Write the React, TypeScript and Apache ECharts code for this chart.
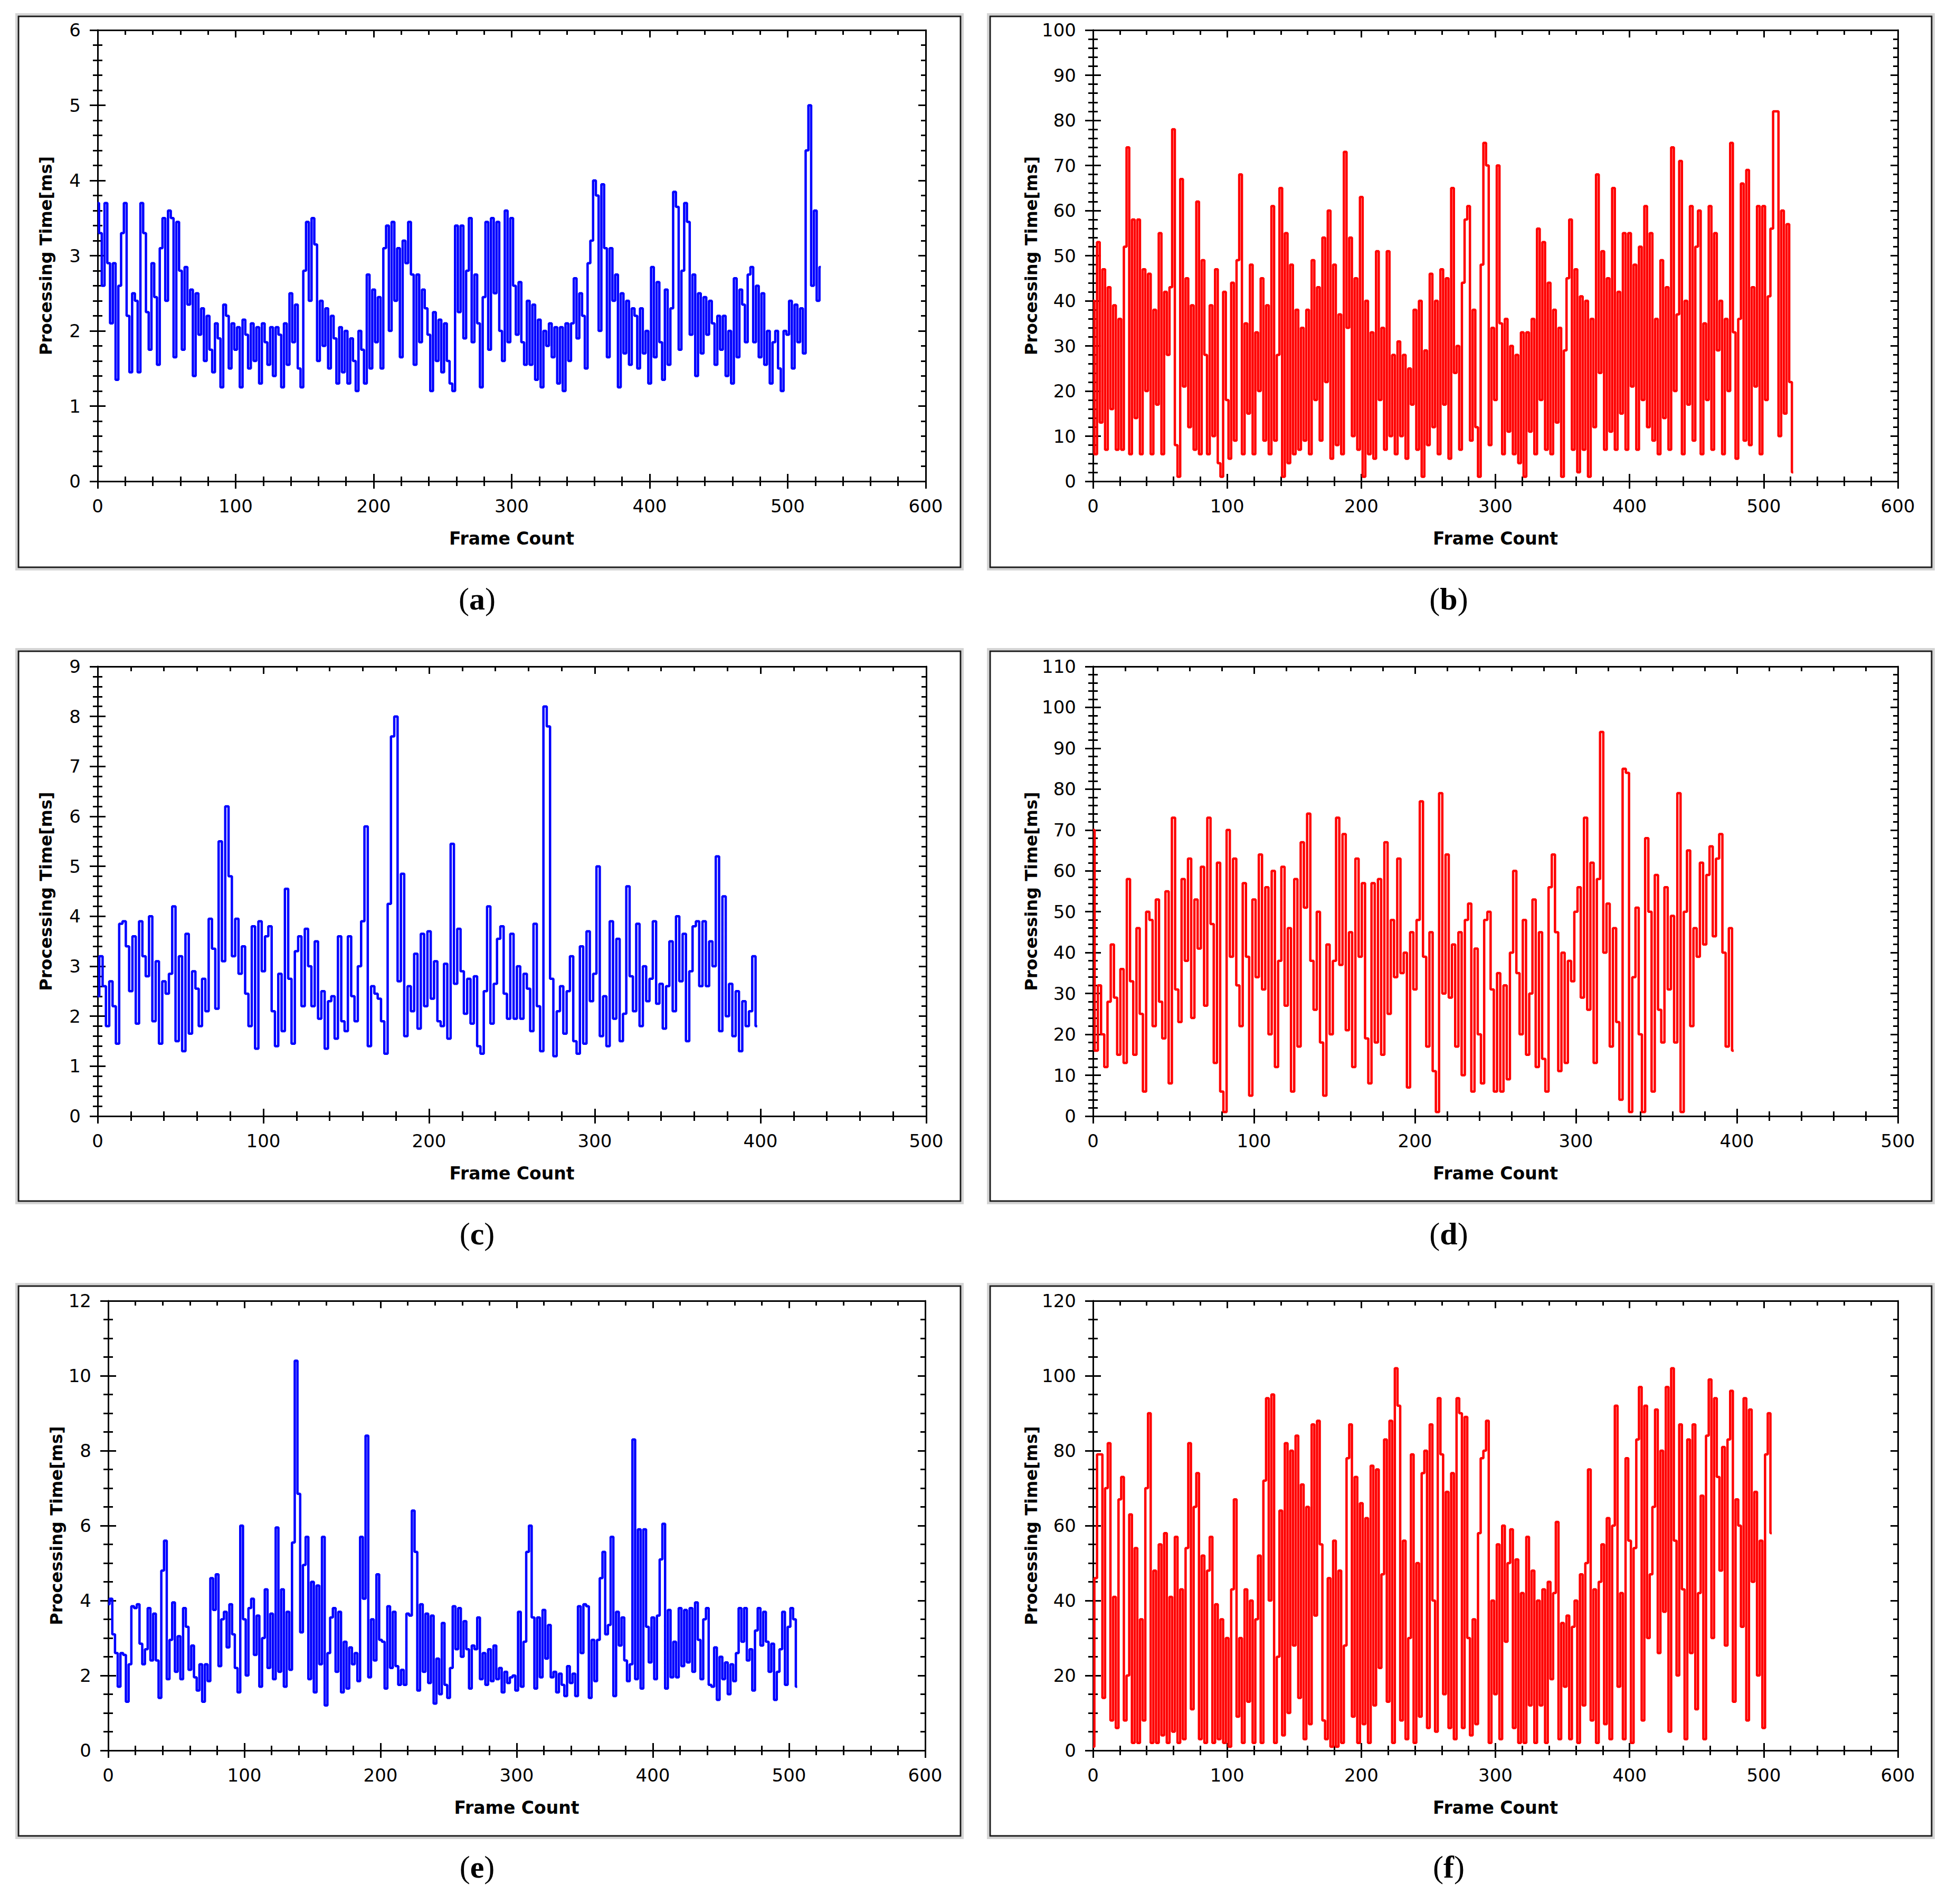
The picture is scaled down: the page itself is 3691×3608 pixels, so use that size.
import React, { useEffect, useRef } from "react";
import * as echarts from "echarts";

const W = 3691;
const H = 3608;
const FRAME_STEP = 2;

// (a) blue, frames 0..524 every 2 frames
const aTime = [
  3.7, 3.3, 2.6, 3.7, 2.9, 2.1, 2.9, 1.35, 2.6, 3.3,
  3.7, 2.2, 1.45, 2.5, 2.4, 1.45, 3.7, 3.3, 2.25, 1.75,
  2.9, 2.45, 1.55, 3.1, 3.5, 2.4, 3.6, 3.5, 1.65, 3.45,
  2.8, 1.75, 2.85, 2.35, 2.55, 1.4, 2.5, 1.95, 2.3, 1.6,
  2.2, 1.75, 1.45, 2.1, 1.9, 1.25, 2.35, 2.2, 1.5, 2.1,
  1.75, 2.05, 1.25, 2.15, 1.95, 1.5, 2.1, 1.6, 2.05, 1.3,
  2.1, 1.85, 1.55, 2.05, 1.4, 2.05, 1.95, 1.25, 2.1, 1.55,
  2.5, 1.85, 2.35, 1.5, 1.25, 2.8, 3.45, 2.4, 3.5, 3.15,
  1.6, 2.4, 1.8, 2.3, 1.5, 2.2, 1.9, 1.3, 2.05, 1.45,
  2.0, 1.3, 1.9, 1.6, 1.2, 2.0, 1.75, 1.3, 2.75, 1.5,
  2.55, 1.85, 2.45, 1.5, 3.1, 3.4, 2.0, 3.45, 2.4, 3.1,
  1.65, 3.2, 2.9, 3.45, 2.75, 1.55, 2.75, 1.85, 2.55, 2.3,
  1.95, 1.2, 2.25, 1.6, 2.15, 1.45, 2.1, 1.6, 1.3, 1.2,
  3.4, 2.25, 3.4, 1.9, 2.8, 3.5, 1.85, 2.75, 2.1, 1.25,
  2.45, 3.45, 1.75, 3.5, 2.5, 3.45, 2.0, 1.6, 3.6, 1.85,
  3.5, 2.6, 1.95, 2.65, 1.85, 1.55, 2.4, 1.55, 2.35, 1.35,
  2.15, 1.25, 2.0, 1.8, 2.1, 1.65, 2.05, 1.3, 2.05, 1.2,
  2.1, 1.6, 2.1, 2.7, 1.9, 2.5, 2.2, 1.5, 2.9, 3.2,
  4.0, 3.8, 2.0, 3.95, 3.1, 1.65, 3.1, 2.4, 2.75, 1.25,
  2.5, 1.7, 2.4, 1.55, 2.3, 2.2, 1.5, 2.3, 1.7, 2.0,
  1.3, 2.85, 1.65, 2.65, 1.85, 1.35, 2.55, 1.55, 2.3, 3.85,
  3.65, 1.75, 2.8, 3.7, 3.45, 1.95, 2.75, 1.4, 2.5, 1.7,
  2.45, 1.95, 2.4, 2.1, 1.55, 2.2, 1.75, 2.2, 1.4, 2.0,
  1.3, 2.7, 1.65, 2.55, 2.35, 1.85, 2.75, 2.85, 1.85, 2.6,
  1.65, 2.5, 1.55, 2.0, 1.3, 1.85, 2.0, 1.5, 1.2, 2.0,
  1.95, 2.4, 1.5, 2.35, 1.85, 2.3, 1.7, 4.4, 5.0, 2.6,
  3.6, 2.4, 2.85,
];

// (b) red, frames 0..522 every 2 frames
const bTime = [
  40, 6, 53, 13, 47, 7, 43, 16, 39, 7,
  36, 7, 52, 74, 6, 58, 14, 58, 6, 47,
  20, 46, 6, 38, 17, 55, 6, 42, 28, 43,
  78, 8, 1, 67, 21, 45, 12, 39, 7, 62,
  6, 49, 28, 6, 39, 10, 47, 4, 1, 42,
  18, 5, 44, 9, 49, 68, 6, 35, 15, 48,
  6, 33, 20, 45, 9, 39, 6, 61, 9, 28,
  65, 1, 55, 4, 48, 6, 38, 7, 34, 9,
  38, 6, 49, 18, 43, 9, 54, 22, 60, 5,
  48, 8, 37, 6, 73, 34, 54, 10, 45, 7,
  63, 1, 40, 6, 33, 5, 51, 18, 34, 7,
  51, 10, 28, 6, 31, 10, 28, 5, 25, 17,
  38, 7, 40, 1, 29, 8, 46, 12, 40, 6,
  47, 17, 45, 5, 65, 24, 30, 7, 44, 58,
  61, 9, 38, 12, 1, 48, 75, 70, 8, 34,
  18, 70, 35, 6, 36, 11, 30, 6, 28, 4,
  33, 1, 33, 11, 36, 6, 56, 18, 53, 7,
  44, 6, 38, 13, 34, 1, 29, 45, 58, 7,
  47, 2, 41, 7, 40, 1, 36, 12, 68, 24,
  51, 7, 45, 11, 65, 7, 42, 15, 55, 7,
  55, 21, 48, 7, 52, 18, 61, 12, 55, 9,
  36, 6, 49, 14, 43, 7, 74, 20, 37, 71,
  6, 40, 17, 61, 9, 52, 60, 6, 35, 18,
  61, 7, 55, 29, 40, 6, 36, 20, 75, 33,
  5, 36, 66, 9, 69, 8, 43, 21, 61, 6,
  61, 18, 41, 56, 82, 82, 10, 60, 15, 57,
  22, 2,
];

// (c) blue, frames 0..398 every 2 frames
const cTime = [
  2.4, 3.2, 2.6, 1.8, 2.7, 2.2, 1.45, 3.85, 3.9, 3.4,
  2.5, 3.6, 1.85, 3.9, 3.2, 2.8, 4.0, 1.9, 3.1, 1.45,
  2.7, 2.45, 2.85, 4.2, 1.5, 3.2, 1.3, 3.65, 1.65, 2.9,
  2.55, 1.8, 2.75, 2.1, 3.95, 3.35, 2.15, 5.5, 3.1, 6.2,
  4.8, 3.2, 3.95, 2.85, 3.4, 2.45, 1.8, 3.8, 1.35, 3.9,
  2.9, 3.6, 3.8, 2.1, 1.4, 2.85, 1.7, 4.55, 2.75, 1.45,
  3.3, 3.6, 2.2, 3.75, 3.0, 2.2, 3.5, 1.95, 2.5, 1.35,
  2.3, 2.4, 1.55, 3.6, 1.9, 1.7, 3.6, 2.4, 1.9, 3.0,
  3.9, 5.8, 1.4, 2.6, 2.45, 2.35, 1.9, 1.25, 4.25, 7.6,
  8.0, 2.7, 4.85, 1.6, 2.6, 2.1, 3.25, 1.75, 3.65, 2.2,
  3.7, 2.35, 3.1, 1.9, 1.8, 3.05, 1.55, 5.45, 2.65, 3.75,
  2.9, 2.05, 2.75, 1.85, 2.8, 1.4, 1.25, 2.5, 4.2, 1.85,
  2.65, 3.55, 3.8, 2.45, 1.95, 3.65, 1.95, 3.0, 1.95, 2.85,
  2.55, 1.7, 3.85, 2.2, 1.3, 8.2, 7.8, 2.75, 1.2, 2.1,
  2.6, 1.65, 2.5, 3.2, 1.5, 1.25, 3.4, 1.45, 3.7, 2.3,
  2.85, 5.0, 1.6, 2.4, 1.4, 3.9, 1.95, 3.55, 1.5, 2.05,
  4.6, 2.8, 2.1, 3.85, 1.8, 3.0, 2.3, 2.75, 3.9, 2.25,
  2.65, 1.75, 2.6, 3.5, 2.1, 4.0, 2.7, 3.65, 1.5, 2.9,
  3.8, 3.9, 2.6, 3.9, 2.6, 3.5, 3.0, 5.2, 1.7, 4.4,
  2.0, 2.65, 1.6, 2.5, 1.3, 2.3, 1.8, 2.1, 3.2, 1.8,
];

// (d) red, frames 0..398 every 2 frames
const dTime = [
  70, 16, 32, 20, 12, 28, 42, 29, 15, 36,
  13, 58, 33, 15, 46, 25, 6, 50, 48, 22,
  53, 28, 19, 55, 8, 73, 31, 23, 58, 38,
  63, 24, 53, 41, 61, 27, 73, 47, 13, 62,
  6, 1, 70, 39, 63, 32, 22, 57, 39, 5,
  53, 34, 64, 31, 56, 20, 60, 12, 38, 61,
  27, 46, 6, 58, 17, 67, 51, 74, 38, 26,
  50, 18, 5, 42, 20, 38, 73, 37, 69, 21,
  45, 12, 63, 39, 57, 19, 8, 57, 18, 58,
  15, 67, 25, 48, 34, 63, 35, 40, 7, 45,
  31, 48, 77, 39, 17, 45, 11, 1, 79, 30,
  64, 29, 42, 17, 45, 10, 48, 52, 6, 41,
  20, 8, 48, 50, 31, 6, 35, 6, 32, 9,
  40, 60, 35, 20, 48, 15, 30, 53, 12, 45,
  14, 6, 56, 64, 45, 11, 40, 13, 38, 33,
  50, 56, 29, 73, 26, 62, 13, 58, 94, 40,
  52, 17, 46, 23, 4, 85, 84, 1, 34, 51,
  20, 1, 68, 50, 6, 59, 26, 18, 56, 31,
  49, 18, 79, 1, 50, 65, 22, 46, 39, 62,
  42, 59, 66, 44, 63, 69, 40, 17, 46, 16,
];

// (e) blue, frames 0..506 every 2 frames
const eTime = [
  3.9, 4.05, 3.1, 2.6, 1.7, 2.6, 2.55, 1.3, 2.3, 3.85,
  3.8, 3.9, 2.85, 2.3, 2.7, 3.8, 2.4, 3.65, 2.4, 1.4,
  4.8, 5.6, 1.9, 2.95, 3.95, 2.1, 3.05, 1.9, 3.8, 3.3,
  2.15, 2.8, 1.95, 1.6, 2.3, 1.3, 2.3, 1.85, 4.6, 3.75,
  4.7, 2.25, 3.5, 3.7, 2.75, 3.9, 3.1, 2.2, 1.55, 6.0,
  3.5, 2.0, 3.8, 4.05, 2.55, 3.6, 1.7, 3.0, 4.3, 2.2,
  3.65, 1.9, 5.95, 2.1, 4.3, 1.7, 3.7, 2.15, 5.55, 10.4,
  6.85, 3.15, 4.95, 5.7, 1.9, 4.5, 1.55, 4.4, 2.3, 5.7,
  1.2, 2.6, 3.55, 3.8, 2.1, 3.7, 1.55, 2.9, 1.65, 2.75,
  2.3, 2.6, 1.85, 5.7, 4.05, 8.4, 1.95, 3.5, 2.4, 4.7,
  2.95, 2.9, 1.65, 3.85, 2.2, 3.7, 2.25, 1.75, 2.15, 1.75,
  3.65, 3.6, 6.4, 5.3, 1.6, 3.9, 2.1, 3.65, 1.8, 3.6,
  1.25, 2.45, 1.5, 3.4, 1.75, 1.4, 2.2, 3.85, 2.7, 3.8,
  2.5, 3.45, 2.7, 1.65, 2.8, 2.7, 3.55, 1.9, 2.6, 1.75,
  2.7, 1.85, 2.8, 1.9, 2.2, 1.55, 2.1, 1.8, 1.95, 2.0,
  1.6, 3.7, 1.7, 2.9, 5.3, 6.0, 3.55, 1.65, 3.55, 1.95,
  3.75, 2.45, 3.35, 1.95, 2.1, 1.55, 2.05, 1.75, 1.45, 2.25,
  1.8, 2.05, 1.45, 3.85, 2.6, 3.9, 3.85, 1.4, 2.95, 1.85,
  2.95, 4.6, 5.3, 3.1, 3.35, 5.7, 1.45, 3.7, 2.8, 3.55,
  2.4, 1.85, 2.3, 8.3, 1.9, 5.9, 1.65, 5.9, 3.3, 2.35,
  3.55, 1.9, 3.6, 5.1, 6.05, 1.65, 3.75, 1.95, 2.9, 1.95,
  3.8, 2.25, 3.75, 2.35, 3.8, 2.1, 3.95, 2.95, 1.9, 3.5,
  3.8, 1.75, 1.7, 2.75, 1.35, 2.5, 1.9, 2.35, 1.5, 2.3,
  1.85, 2.6, 3.8, 2.9, 3.8, 2.4, 2.7, 1.6, 3.2, 3.8,
  2.8, 3.7, 2.9, 2.1, 2.85, 1.35, 2.1, 2.7, 3.7, 1.75,
  3.3, 3.8, 3.5, 1.7,
];

// (f) red, frames 0..506 every 2 frames
const fTime = [
  1, 46, 79, 79, 14, 70, 82, 8, 41, 6,
  67, 73, 8, 20, 63, 2, 54, 2, 35, 8,
  70, 90, 2, 48, 2, 55, 4, 58, 2, 41,
  5, 57, 2, 43, 3, 54, 82, 11, 65, 74,
  3, 52, 2, 48, 57, 2, 39, 3, 35, 2,
  30, 1, 43, 67, 9, 30, 2, 43, 13, 40,
  2, 35, 52, 2, 72, 94, 40, 95, 2, 25,
  64, 4, 82, 10, 80, 28, 84, 14, 71, 3,
  65, 7, 87, 36, 88, 55, 8, 3, 46, 1,
  56, 1, 48, 2, 28, 78, 87, 9, 73, 2,
  66, 7, 62, 2, 76, 12, 75, 22, 47, 83,
  13, 88, 2, 102, 92, 8, 56, 3, 30, 79,
  2, 50, 9, 74, 80, 6, 87, 40, 5, 94,
  79, 15, 69, 6, 74, 3, 94, 90, 6, 89,
  30, 4, 35, 7, 58, 78, 80, 88, 2, 40,
  15, 55, 3, 60, 29, 50, 59, 6, 51, 2,
  42, 2, 57, 12, 48, 2, 40, 12, 43, 2,
  45, 19, 42, 61, 3, 34, 17, 36, 3, 33,
  40, 2, 47, 12, 50, 75, 8, 43, 2, 45,
  55, 7, 62, 3, 60, 92, 17, 42, 3, 78,
  56, 2, 54, 83, 97, 8, 92, 30, 47, 65,
  91, 26, 80, 37, 97, 5, 102, 56, 20, 87,
  43, 3, 83, 26, 87, 11, 42, 68, 3, 84,
  99, 30, 94, 73, 48, 81, 28, 83, 96, 13,
  67, 60, 33, 94, 8, 91, 45, 69, 20, 56,
  6, 79, 90, 58,
];

const captionLetters = ["a", "b", "c", "d", "e", "f"];
const xMaxes = [600, 600, 500, 500, 600, 600];
const yMaxes = [6, 100, 9, 110, 12, 120];
const yIntervals = [1, 10, 1, 10, 2, 20];
const yMinorSplits = [5, 5, 5, 5, 4, 4];
const seriesData = [aTime, bTime, cTime, dTime, eTime, fTime];
const seriesColors = ["#0000ff", "#ff0000", "#0000ff", "#ff0000", "#0000ff", "#ff0000"];
const xName = "Frame Count";
const yName = "Processing Time[ms]";

// layout (pixels)
const boxes = [
  [35, 31, 1785, 1044],
  [1876, 31, 1784, 1044],
  [35, 1234, 1785, 1042],
  [1876, 1234, 1784, 1042],
  [35, 2437, 1785, 1042],
  [1876, 2437, 1784, 1042],
];
const grids = [
  [185, 57, 1569, 855],
  [2071, 57, 1525, 855],
  [185, 1263, 1570, 852],
  [2071, 1263, 1525, 852],
  [205, 2465, 1548, 852],
  [2071, 2465, 1525, 852],
];
const captionPos = [
  [904, 1135],
  [2745, 1135],
  [904, 2338],
  [2745, 2338],
  [904, 3538],
  [2745, 3538],
];

const AXIS_COLOR = "#000";
const LW = 3;
const LABEL_FONT = "DejaVu Sans";

function buildOption() {
  const grid: any[] = [];
  const xAxis: any[] = [];
  const yAxis: any[] = [];
  const series: any[] = [];
  const graphic: any[] = [];

  for (let k = 0; k < 6; k++) {
    const [gl, gt, gw, gh] = grids[k];
    grid.push({ left: gl, top: gt, width: gw, height: gh, containLabel: false });

    const xBase = {
      type: "value",
      gridIndex: k,
      min: 0,
      max: xMaxes[k],
      interval: 100,
      splitLine: { show: false },
      axisLine: { show: true, onZero: false, lineStyle: { color: AXIS_COLOR, width: LW } },
      minorTick: { show: true, splitNumber: 5, length: 9, lineStyle: { color: AXIS_COLOR, width: LW } },
    };
    xAxis.push({
      ...xBase,
      position: "bottom",
      name: xName,
      nameLocation: "middle",
      nameGap: 92,
      nameTextStyle: { fontFamily: LABEL_FONT, fontSize: 33, fontWeight: "bold", color: "#000" },
      axisTick: { show: true, inside: false, length: 14, lineStyle: { color: AXIS_COLOR, width: LW } },
      axisLabel: { show: true, margin: 30, fontFamily: LABEL_FONT, fontSize: 34, color: "#000" },
    });
    xAxis.push({
      ...xBase,
      position: "bottom",
      axisTick: { show: true, inside: true, length: 14, lineStyle: { color: AXIS_COLOR, width: LW } },
      axisLabel: { show: false },
    });
    xAxis.push({
      ...xBase,
      position: "top",
      axisTick: { show: true, inside: true, length: 14, lineStyle: { color: AXIS_COLOR, width: LW } },
      axisLabel: { show: false },
    });

    const yBase = {
      type: "value",
      gridIndex: k,
      min: 0,
      max: yMaxes[k],
      interval: yIntervals[k],
      splitLine: { show: false },
      axisLine: { show: true, onZero: false, lineStyle: { color: AXIS_COLOR, width: LW } },
      minorTick: { show: true, splitNumber: yMinorSplits[k], length: 9, lineStyle: { color: AXIS_COLOR, width: LW } },
    };
    yAxis.push({
      ...yBase,
      position: "left",
      name: yName,
      nameLocation: "middle",
      nameGap: 82,
      nameTextStyle: { fontFamily: LABEL_FONT, fontSize: 32, fontWeight: "bold", color: "#000" },
      axisTick: { show: true, inside: false, length: 15, lineStyle: { color: AXIS_COLOR, width: LW } },
      axisLabel: { show: true, margin: 32, fontFamily: LABEL_FONT, fontSize: 34, color: "#000" },
    });
    yAxis.push({
      ...yBase,
      position: "left",
      axisTick: { show: true, inside: true, length: 15, lineStyle: { color: AXIS_COLOR, width: LW } },
      axisLabel: { show: false },
    });
    yAxis.push({
      ...yBase,
      position: "right",
      axisTick: { show: true, inside: true, length: 14, lineStyle: { color: AXIS_COLOR, width: LW } },
      axisLabel: { show: false },
    });

    const vals = seriesData[k];
    series.push({
      type: "line",
      xAxisIndex: 3 * k,
      yAxisIndex: 3 * k,
      data: vals.map((v, i) => [i * FRAME_STEP, v]),
      step: "middle",
      symbol: "none",
      showSymbol: false,
      silent: true,
      lineStyle: { color: seriesColors[k], width: 4.5 },
      itemStyle: { color: seriesColors[k] },
      z: 3,
    });

    const [bx, by, bw, bh] = boxes[k];
    graphic.push({
      type: "rect",
      silent: true,
      z: 0,
      shape: { x: bx - 4, y: by - 4, width: bw + 8, height: bh + 8 },
      style: { fill: "none", stroke: "#d4d4d4", lineWidth: 4 },
    });
    graphic.push({
      type: "rect",
      silent: true,
      z: 0,
      shape: { x: bx, y: by, width: bw, height: bh },
      style: { fill: "none", stroke: "#1a1a1a", lineWidth: 3 },
    });

    const [cx, cy] = captionPos[k];
    graphic.push({
      type: "text",
      silent: true,
      x: cx,
      y: cy,
      style: {
        text: "{p|(}{l|" + captionLetters[k] + "}{p|)}",
        align: "center",
        verticalAlign: "middle",
        rich: {
          p: { fontFamily: "Liberation Serif", fontSize: 60, fontWeight: "normal", fill: "#000" },
          l: { fontFamily: "Liberation Serif", fontSize: 60, fontWeight: "bold", fill: "#000" },
        },
      },
    });
  }

  return {
    animation: false,
    backgroundColor: "#ffffff",
    grid,
    xAxis,
    yAxis,
    series,
    graphic,
  };
}

export default function App() {
  const ref = useRef<HTMLDivElement | null>(null);
  useEffect(() => {
    document.body.style.margin = "0";
    if (!ref.current) return;
    const chart = echarts.init(ref.current, undefined, { renderer: "svg", width: W, height: H });
    chart.setOption(buildOption() as any);
    return () => {
      chart.dispose();
    };
  }, []);
  return <div ref={ref} style={{ width: W, height: H, background: "#fff" }} />;
}
